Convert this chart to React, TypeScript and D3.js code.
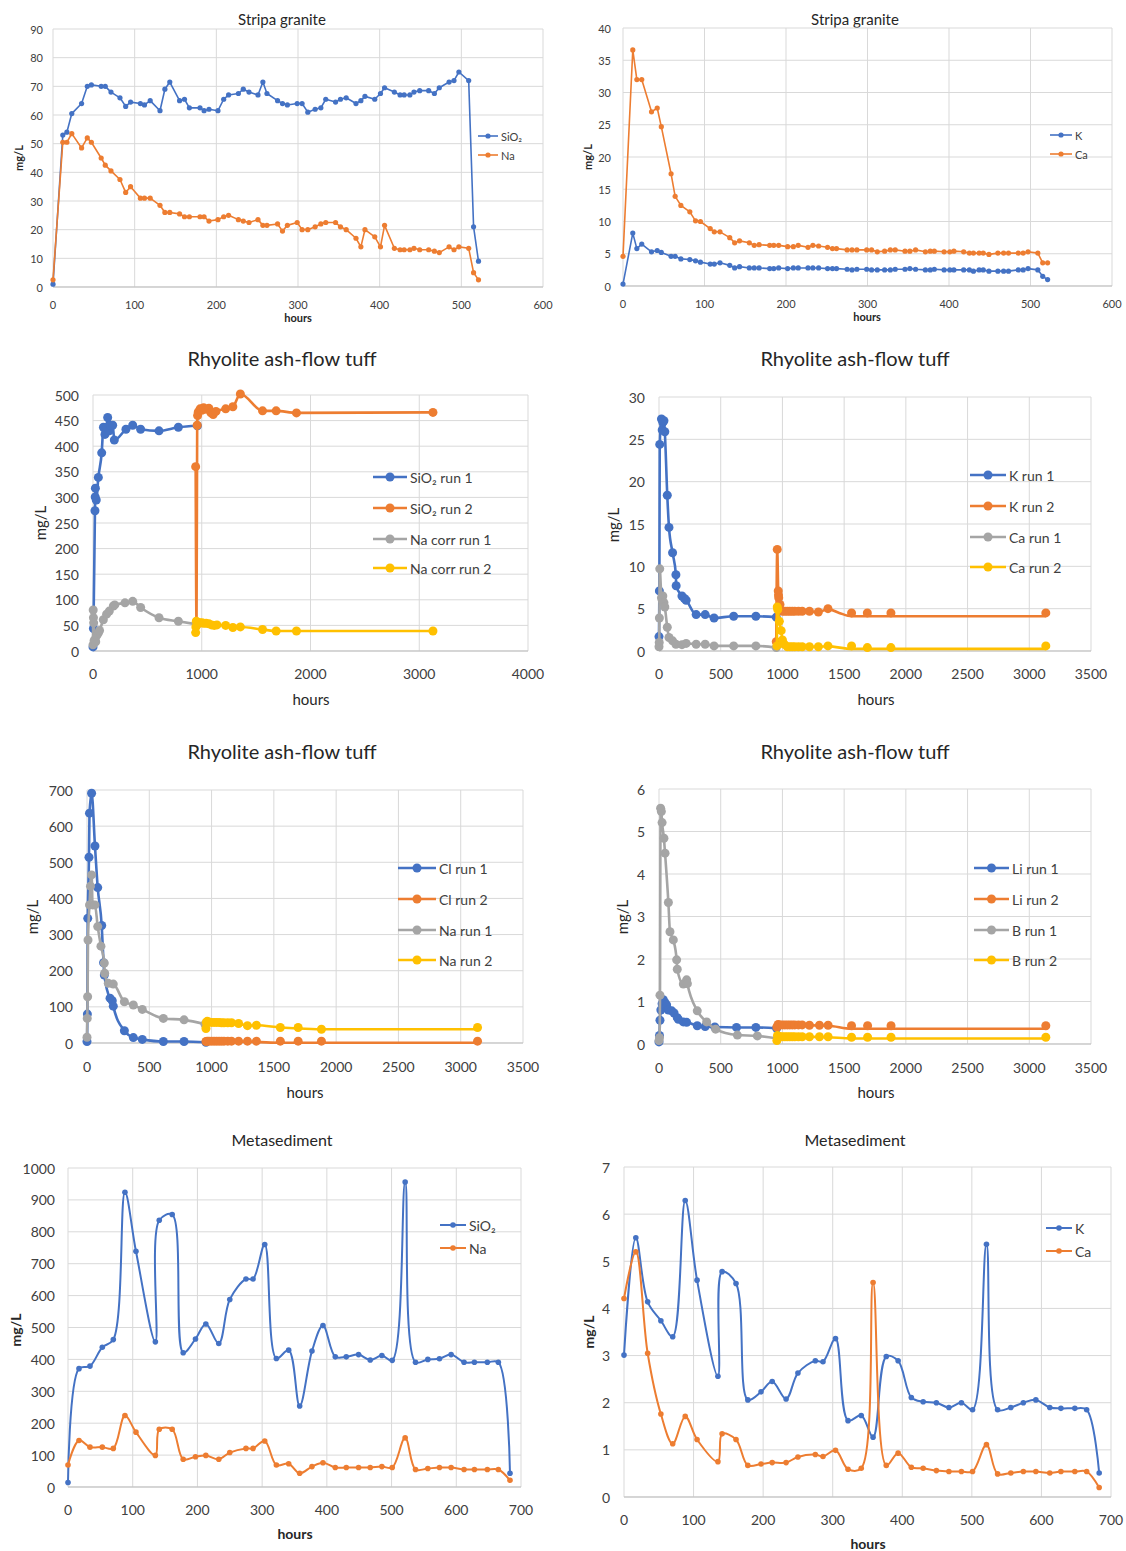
import React from "react";
import * as d3 from "d3";

const BLUE = "#4472C4";
const ORANGE = "#ED7D31";
const GREY = "#A5A5A5";
const YELLOW = "#FFC000";
const FONT = "Lato, 'Open Sans', sans-serif";

// ---- Stripa granite (same sampling times for all four series)
const stripaHours = [0, 12, 17, 23, 35, 42, 47, 59, 64, 71, 82, 89, 95, 107, 112, 119, 131, 137, 143, 155, 161, 167, 180, 185, 191, 202, 209, 215, 227, 233, 240, 251, 257, 262, 275, 281, 287, 299, 305, 312, 321, 328, 334, 346, 352, 359, 371, 377, 382, 394, 401, 406, 418, 425, 430, 437, 442, 449, 460, 467, 473, 485, 491, 497, 509, 515, 521];
const stripaSiO2 = [1, 53, 54, 60.5, 64, 70, 70.5, 70, 70, 68, 66, 63, 64.5, 64, 63.5, 65, 61.5, 69, 71.5, 65, 65.5, 62.5, 62.5, 61.5, 62, 61.5, 65.5, 67, 67.5, 69, 68, 67, 71.5, 67.5, 65, 64, 63.5, 64, 64, 61, 62, 62.5, 65.5, 64.5, 65.5, 66, 64, 65, 66.5, 65.5, 67.5, 69.5, 68, 67, 67, 67, 68, 68.5, 68.5, 67.5, 69.5, 71.5, 72, 75, 72, 21, 9];
const stripaNa = [2.5, 50.5, 50.5, 53.5, 48.5, 52, 50.5, 45, 42.5, 40.5, 37.5, 33, 35, 31, 31, 31, 28.5, 26, 26, 25.5, 24.5, 24.5, 24.5, 24.5, 23, 23.5, 24.5, 25, 23.5, 23, 22.5, 23.5, 21.5, 21.5, 22, 19.5, 21.5, 22.5, 20, 20, 21, 22, 22.5, 22.5, 21, 20, 17, 14, 20, 17.5, 14, 21.5, 13.5, 13, 13, 13, 13.5, 13, 13, 12.5, 12, 14, 13, 14, 13.5, 5, 2.5];
const stripaK = [0.3, 8.2, 5.8, 6.5, 5.3, 5.5, 5.2, 4.6, 4.6, 4.2, 4.1, 3.9, 3.7, 3.4, 3.4, 3.6, 3.2, 2.8, 3.0, 2.8, 2.8, 2.8, 2.7, 2.7, 2.8, 2.7, 2.8, 2.8, 2.8, 2.8, 2.8, 2.7, 2.7, 2.7, 2.6, 2.5, 2.6, 2.6, 2.5, 2.5, 2.5, 2.5, 2.6, 2.6, 2.7, 2.6, 2.5, 2.5, 2.6, 2.5, 2.5, 2.5, 2.5, 2.5, 2.3, 2.5, 2.5, 2.3, 2.3, 2.3, 2.3, 2.5, 2.5, 2.7, 2.5, 1.5, 1.0];
const stripaCa = [4.6, 36.6, 32, 32, 27, 27.6, 24.7, 17.4, 13.9, 12.5, 11.5, 10.1, 10, 8.9, 8.4, 8.4, 7.5, 6.7, 7, 6.7, 6.3, 6.4, 6.3, 6.3, 6.3, 6.1, 6.1, 6.3, 6, 6.3, 6.2, 6, 5.8, 5.8, 5.6, 5.6, 5.6, 5.6, 5.6, 5.3, 5.4, 5.6, 5.6, 5.4, 5.4, 5.6, 5.3, 5.4, 5.4, 5.3, 5.3, 5.4, 5.3, 5.1, 5.1, 5.1, 5.1, 4.9, 5.1, 5.1, 5.1, 5.1, 5.1, 5.3, 5.1, 3.6, 3.6];

// ---- Rhyolite ash-flow tuff, [hours, mg/L]
type P = [number, number];
const rhySiO2Run1: P[] = [[0, 8], [4, 44], [18, 274], [20, 301], [22, 318], [30, 295], [49, 339], [80, 387], [96, 437], [110, 423], [125, 437], [135, 456], [150, 430], [160, 441], [181, 441], [196, 412], [303, 433], [365, 441], [438, 433], [607, 430], [785, 437], [960, 440]];
const rhySiO2Run2: P[] = [[944, 360], [952, 50], [958, 441], [962, 460], [968, 467], [985, 473], [1000, 470], [1017, 475], [1040, 472], [1066, 474], [1085, 465], [1105, 462], [1131, 468], [1220, 473], [1286, 477], [1355, 502], [1559, 469], [1684, 469], [1871, 465], [3126, 466]];
const rhyNaCorrRun1: P[] = [[0, 12], [2, 80], [4, 65], [6, 55], [10, 20], [18, 22], [25, 18], [34, 30], [49, 35], [60, 40], [95, 61], [125, 72], [150, 78], [187, 88], [200, 90], [294, 94], [365, 97], [438, 85], [607, 65], [785, 58], [955, 52]];
const rhyNaCorrRun2: P[] = [[944, 36], [946, 47], [950, 58], [960, 56], [980, 55], [1000, 55], [1017, 54], [1040, 54], [1066, 53], [1090, 51], [1115, 50], [1140, 51], [1220, 50], [1286, 46], [1355, 47], [1559, 42], [1684, 39], [1871, 39], [3126, 39]];

const kRun1: P[] = [[0, 1.7], [3, 7.1], [6, 24.4], [20, 27.4], [26, 26.1], [31, 27.0], [40, 27.2], [47, 25.9], [67, 18.4], [81, 14.6], [110, 11.6], [137, 9.0], [139, 7.7], [186, 6.5], [206, 6.2], [220, 6.0], [301, 4.3], [374, 4.3], [446, 3.9], [605, 4.1], [785, 4.1], [950, 4.0]];
const kRun2: P[] = [[950, 1.1], [958, 12.0], [966, 7.1], [968, 6.6], [970, 6.3], [980, 5.5], [990, 4.8], [1000, 4.7], [1020, 4.7], [1040, 4.7], [1060, 4.7], [1080, 4.7], [1100, 4.7], [1130, 4.7], [1160, 4.7], [1219, 4.7], [1291, 4.6], [1369, 5.0], [1560, 4.5], [1688, 4.5], [1879, 4.5], [3134, 4.5]];
const kRun2Line: P[] = [[950, 1.1], [958, 12.0], [966, 7.1], [970, 6.3], [980, 5.5], [1000, 4.7], [1291, 4.6], [1369, 4.95], [1460, 4.5], [1560, 4.1], [3134, 4.1]];
const caRun1: P[] = [[0, 0.5], [2, 1.0], [3, 3.9], [6, 9.7], [20, 6.3], [26, 6.0], [31, 6.5], [40, 5.7], [47, 5.2], [67, 2.8], [81, 1.6], [110, 1.2], [137, 0.8], [186, 0.75], [220, 0.9], [301, 0.8], [374, 0.8], [446, 0.6], [605, 0.6], [785, 0.6], [950, 0.4]];
const caRun2: P[] = [[955, 0.6], [958, 5.2], [962, 4.9], [975, 3.5], [990, 2.4], [1000, 1.3], [1015, 0.8], [1040, 0.5], [1060, 0.5], [1080, 0.5], [1100, 0.5], [1130, 0.5], [1160, 0.5], [1219, 0.5], [1291, 0.5], [1369, 0.6], [1560, 0.6], [1688, 0.4], [1879, 0.4], [3134, 0.6]];
const caRun2Line: P[] = [[955, 0.6], [958, 5.2], [962, 4.9], [975, 3.5], [990, 2.4], [1000, 1.3], [1015, 0.8], [1040, 0.5], [1291, 0.5], [1369, 0.55], [1560, 0.25], [3134, 0.25]];

const clRun1: P[] = [[0, 4], [3, 80], [6, 345], [16, 514], [20, 636], [37, 691], [64, 545], [86, 430], [118, 325], [133, 222], [139, 188], [185, 124], [203, 117], [211, 102], [300, 34], [372, 15], [444, 10], [613, 4], [779, 4], [955, 2]];
const clRun2: P[] = [[955, 4], [965, 5], [980, 5], [1000, 5], [1020, 5], [1040, 5], [1060, 5], [1080, 5], [1100, 5], [1130, 5], [1160, 5], [1217, 5], [1288, 5], [1360, 5], [1552, 5], [1695, 5], [1882, 5], [3135, 5]];
const clRun2Line: P[] = [[955, 4], [1160, 4], [1360, 3], [1552, 0.5], [3135, 0.5]];
const naRun1: P[] = [[0, 16], [2, 68], [5, 128], [8, 285], [20, 382], [28, 434], [37, 465], [45, 382], [64, 382], [86, 322], [112, 268], [139, 221], [142, 193], [171, 165], [211, 163], [300, 114], [372, 105], [444, 93], [613, 68], [779, 64], [947, 52]];
const naRun2: P[] = [[955, 40], [958, 57], [965, 60], [980, 58], [1000, 57], [1020, 57], [1040, 57], [1060, 57], [1080, 56], [1100, 56], [1130, 56], [1160, 56], [1217, 54], [1288, 48], [1360, 49], [1552, 43], [1695, 43], [1882, 38], [3135, 43]];
const naRun2Line: P[] = [[955, 40], [958, 57], [1160, 56], [1217, 54], [1288, 48], [1360, 49], [1552, 43], [1695, 40], [1882, 38], [3135, 38]];

const liRun1: P[] = [[0, 0.05], [4, 0.2], [8, 0.56], [15, 0.8], [25, 0.95], [35, 1.04], [49, 0.97], [62, 0.92], [76, 0.8], [103, 0.78], [122, 0.73], [148, 0.62], [157, 0.58], [197, 0.52], [224, 0.51], [310, 0.43], [374, 0.41], [452, 0.4], [628, 0.39], [785, 0.39], [953, 0.37]];
const liRun2: P[] = [[955, 0.4], [965, 0.46], [980, 0.45], [1000, 0.45], [1020, 0.45], [1040, 0.45], [1060, 0.45], [1080, 0.45], [1100, 0.45], [1130, 0.45], [1160, 0.45], [1219, 0.44], [1300, 0.44], [1370, 0.44], [1560, 0.43], [1690, 0.43], [1880, 0.43], [3134, 0.43]];
const liRun2Line: P[] = [[955, 0.4], [965, 0.45], [1370, 0.43], [1560, 0.36], [3134, 0.36]];
const bRun1: P[] = [[0, 0.08], [4, 0.15], [8, 1.15], [13, 5.55], [19, 5.47], [25, 5.21], [40, 4.84], [49, 4.49], [76, 3.33], [89, 2.64], [116, 2.45], [143, 1.98], [148, 1.76], [197, 1.41], [224, 1.51], [230, 1.42], [310, 0.78], [386, 0.52], [459, 0.35], [635, 0.21], [797, 0.19], [960, 0.13]];
const bRun2: P[] = [[955, 0.08], [960, 0.2], [980, 0.17], [1000, 0.17], [1020, 0.17], [1040, 0.17], [1060, 0.17], [1080, 0.17], [1100, 0.17], [1130, 0.17], [1160, 0.17], [1219, 0.17], [1300, 0.17], [1370, 0.17], [1560, 0.16], [1690, 0.16], [1880, 0.16], [3134, 0.16]];
const bRun2Line: P[] = [[955, 0.08], [960, 0.18], [1370, 0.16], [1560, 0.13], [3134, 0.13]];

// ---- Metasediment
const metaHours = [0, 17, 34, 53, 70, 88, 105, 135, 141, 161, 178, 197, 213, 233, 250, 275, 286, 304, 322, 341, 358, 377, 394, 413, 430, 449, 467, 485, 501, 521, 537, 556, 574, 592, 612, 628, 648, 665, 683];
const metaSiO2 = [14, 371, 379, 438, 462, 924, 739, 455, 836, 854, 421, 464, 511, 450, 588, 652, 652, 760, 403, 429, 254, 426, 506, 408, 408, 415, 398, 412, 397, 956, 391, 400, 402, 415, 391, 391, 391, 391, 43];
const metaNa = [69, 146, 125, 125, 121, 224, 172, 99, 181, 181, 87, 95, 99, 87, 108, 121, 121, 144, 69, 73, 43, 64, 76, 61, 61, 61, 61, 64, 61, 154, 55, 58, 61, 61, 55, 55, 55, 55, 21];
const metaK = [3.01, 5.5, 4.14, 3.74, 3.4, 6.29, 4.6, 2.56, 4.78, 4.53, 2.06, 2.23, 2.45, 2.08, 2.63, 2.89, 2.87, 3.36, 1.62, 1.73, 1.27, 2.98, 2.89, 2.11, 2.02, 2.0, 1.9, 2.0, 1.85, 5.36, 1.85, 1.9, 2.0, 2.06, 1.9, 1.88, 1.88, 1.85, 0.51];
const metaCa = [4.21, 5.2, 3.05, 1.76, 1.13, 1.71, 1.22, 0.75, 1.34, 1.22, 0.67, 0.7, 0.73, 0.73, 0.85, 0.9, 0.86, 0.99, 0.59, 0.61, 4.55, 0.67, 0.93, 0.63, 0.61, 0.56, 0.54, 0.54, 0.54, 1.11, 0.49, 0.51, 0.54, 0.54, 0.51, 0.54, 0.54, 0.54, 0.2];

const pairs = (hs: number[], vs: number[]): P[] => hs.map((h, i) => [h, vs[i]]);

type Series = { name: string; color: string; pts: P[]; line?: P[] };
type Cfg = {
  title: string; titleX: number; titleY: number; titleSize: number;
  left: number; right: number; top: number; bottom: number;
  xMax: number; xStep: number; yMax: number; yStep: number;
  tickSize: number; yGap: number; xGap: number;
  xTitle: P; yTitle: P; axisSize: number; bold: boolean;
  legend: { x0: number; x1: number; ys: number[]; size: number };
  r: number; lw: number; curve: d3.CurveFactory; series: Series[];
};

const smooth = d3.curveCatmullRom.alpha(0.5);

const panels: Cfg[] = [
  {
    title: "Stripa granite", titleX: 282, titleY: 19, titleSize: 15,
    left: 53, right: 543, top: 29, bottom: 287, xMax: 600, xStep: 100, yMax: 90, yStep: 10,
    tickSize: 11, yGap: 10, xGap: 17, xTitle: [298, 317], yTitle: [18, 158], axisSize: 11, bold: true,
    legend: { x0: 478, x1: 498, ys: [136, 155], size: 11 }, r: 2.6, lw: 1.6, curve: d3.curveLinear,
    series: [
      { name: "SiO₂", color: BLUE, pts: pairs(stripaHours, stripaSiO2) },
      { name: "Na", color: ORANGE, pts: pairs(stripaHours, stripaNa) },
    ],
  },
  {
    title: "Stripa granite", titleX: 855, titleY: 19, titleSize: 15,
    left: 623, right: 1112, top: 28, bottom: 286, xMax: 600, xStep: 100, yMax: 40, yStep: 5,
    tickSize: 11, yGap: 12, xGap: 17, xTitle: [867, 316], yTitle: [587, 157], axisSize: 11, bold: true,
    legend: { x0: 1050, x1: 1072, ys: [135, 154], size: 11 }, r: 2.6, lw: 1.6, curve: d3.curveLinear,
    series: [
      { name: "K", color: BLUE, pts: pairs(stripaHours, stripaK) },
      { name: "Ca", color: ORANGE, pts: pairs(stripaHours, stripaCa) },
    ],
  },
  {
    title: "Rhyolite ash-flow tuff", titleX: 282, titleY: 358, titleSize: 20,
    left: 93, right: 528, top: 395, bottom: 651, xMax: 4000, xStep: 1000, yMax: 500, yStep: 50,
    tickSize: 14, yGap: 14, xGap: 22, xTitle: [311, 699], yTitle: [40, 523], axisSize: 15, bold: false,
    legend: { x0: 373, x1: 407, ys: [477, 508, 539, 568], size: 14 }, r: 4.5, lw: 2.6, curve: d3.curveMonotoneX,
    series: [
      { name: "SiO₂ run 1", color: BLUE, pts: rhySiO2Run1 },
      { name: "SiO₂ run 2", color: ORANGE, pts: rhySiO2Run2 },
      { name: "Na corr run 1", color: GREY, pts: rhyNaCorrRun1 },
      { name: "Na corr run 2", color: YELLOW, pts: rhyNaCorrRun2 },
    ],
  },
  {
    title: "Rhyolite ash-flow tuff", titleX: 855, titleY: 358, titleSize: 20,
    left: 659, right: 1091, top: 397, bottom: 651, xMax: 3500, xStep: 500, yMax: 30, yStep: 5,
    tickSize: 14, yGap: 14, xGap: 22, xTitle: [876, 699], yTitle: [613, 525], axisSize: 15, bold: false,
    legend: { x0: 970, x1: 1006, ys: [475, 506, 537, 567], size: 14 }, r: 4.5, lw: 2.6, curve: d3.curveMonotoneX,
    series: [
      { name: "K run 1", color: BLUE, pts: kRun1 },
      { name: "K run 2", color: ORANGE, pts: kRun2, line: kRun2Line },
      { name: "Ca run 1", color: GREY, pts: caRun1 },
      { name: "Ca run 2", color: YELLOW, pts: caRun2, line: caRun2Line },
    ],
  },
  {
    title: "Rhyolite ash-flow tuff", titleX: 282, titleY: 751, titleSize: 20,
    left: 87, right: 523, top: 790, bottom: 1043, xMax: 3500, xStep: 500, yMax: 700, yStep: 100,
    tickSize: 14, yGap: 14, xGap: 23, xTitle: [305, 1092], yTitle: [32, 917], axisSize: 15, bold: false,
    legend: { x0: 398, x1: 436, ys: [868, 899, 930, 960], size: 14 }, r: 4.5, lw: 2.6, curve: d3.curveMonotoneX,
    series: [
      { name: "Cl run 1", color: BLUE, pts: clRun1 },
      { name: "Cl run 2", color: ORANGE, pts: clRun2, line: clRun2Line },
      { name: "Na run 1", color: GREY, pts: naRun1 },
      { name: "Na run 2", color: YELLOW, pts: naRun2, line: naRun2Line },
    ],
  },
  {
    title: "Rhyolite ash-flow tuff", titleX: 855, titleY: 751, titleSize: 20,
    left: 659, right: 1091, top: 789, bottom: 1044, xMax: 3500, xStep: 500, yMax: 6, yStep: 1,
    tickSize: 14, yGap: 14, xGap: 23, xTitle: [876, 1092], yTitle: [622, 917], axisSize: 15, bold: false,
    legend: { x0: 974, x1: 1009, ys: [868, 899, 930, 960], size: 14 }, r: 4.5, lw: 2.6, curve: d3.curveMonotoneX,
    series: [
      { name: "Li run 1", color: BLUE, pts: liRun1 },
      { name: "Li run 2", color: ORANGE, pts: liRun2, line: liRun2Line },
      { name: "B run 1", color: GREY, pts: bRun1 },
      { name: "B run 2", color: YELLOW, pts: bRun2, line: bRun2Line },
    ],
  },
  {
    title: "Metasediment", titleX: 282, titleY: 1139, titleSize: 16,
    left: 68, right: 521, top: 1168, bottom: 1487, xMax: 700, xStep: 100, yMax: 1000, yStep: 100,
    tickSize: 14, yGap: 13, xGap: 22, xTitle: [295, 1533], yTitle: [15, 1330], axisSize: 14, bold: true,
    legend: { x0: 440, x1: 466, ys: [1225, 1248], size: 14 }, r: 2.8, lw: 2, curve: smooth,
    series: [
      { name: "SiO₂", color: BLUE, pts: pairs(metaHours, metaSiO2) },
      { name: "Na", color: ORANGE, pts: pairs(metaHours, metaNa) },
    ],
  },
  {
    title: "Metasediment", titleX: 855, titleY: 1139, titleSize: 16,
    left: 624, right: 1111, top: 1167, bottom: 1497, xMax: 700, xStep: 100, yMax: 7, yStep: 1,
    tickSize: 14, yGap: 14, xGap: 22, xTitle: [868, 1543], yTitle: [588, 1332], axisSize: 14, bold: true,
    legend: { x0: 1046, x1: 1072, ys: [1228, 1251], size: 14 }, r: 2.8, lw: 2, curve: smooth,
    series: [
      { name: "K", color: BLUE, pts: pairs(metaHours, metaK) },
      { name: "Ca", color: ORANGE, pts: pairs(metaHours, metaCa) },
    ],
  },
];

function Panel({ c }: { c: Cfg }) {
  const x = d3.scaleLinear().domain([0, c.xMax]).range([c.left, c.right]);
  const y = d3.scaleLinear().domain([0, c.yMax]).range([c.bottom, c.top]);
  const xTicks = d3.range(0, c.xMax + 1e-9, c.xStep);
  const yTicks = d3.range(0, c.yMax + 1e-9, c.yStep);
  const line = d3.line<P>().x((d) => x(d[0])).y((d) => y(d[1])).curve(c.curve);
  const weight = c.bold ? 700 : 400;
  return (
    <g fontFamily={FONT}>
      <text x={c.titleX} y={c.titleY} fontSize={c.titleSize} textAnchor="middle" dominantBaseline="central" fill="#262626">
        {c.title}
      </text>
      {yTicks.map((t) => (
        <g key={"y" + t}>
          <line x1={c.left} x2={c.right} y1={y(t)} y2={y(t)} stroke="#D9D9D9" strokeWidth={1} />
          <text x={c.left - c.yGap} y={y(t)} fontSize={c.tickSize} textAnchor="end" dominantBaseline="central" fill="#404040">
            {t}
          </text>
        </g>
      ))}
      {xTicks.map((t) => (
        <g key={"x" + t}>
          <line x1={x(t)} x2={x(t)} y1={c.top} y2={c.bottom} stroke="#D9D9D9" strokeWidth={1} />
          <text x={x(t)} y={c.bottom + c.xGap} fontSize={c.tickSize} textAnchor="middle" dominantBaseline="central" fill="#404040">
            {t}
          </text>
        </g>
      ))}
      <line x1={c.left} x2={c.right} y1={c.bottom} y2={c.bottom} stroke="#BFBFBF" strokeWidth={1} />
      <text x={c.xTitle[0]} y={c.xTitle[1]} fontSize={c.axisSize} fontWeight={weight} textAnchor="middle" dominantBaseline="central" fill="#262626">
        hours
      </text>
      <text
        transform={`translate(${c.yTitle[0]},${c.yTitle[1]}) rotate(-90)`}
        fontSize={c.axisSize} fontWeight={weight} textAnchor="middle" dominantBaseline="central" fill="#262626"
      >
        mg/L
      </text>
      {c.series.map((s) => (
        <g key={s.name}>
          <path d={line(s.line ?? s.pts) ?? ""} fill="none" stroke={s.color} strokeWidth={c.lw} strokeLinejoin="round" />
          {s.pts.map((p, i) => (
            <circle key={i} cx={x(p[0])} cy={y(p[1])} r={c.r} fill={s.color} />
          ))}
        </g>
      ))}
      {c.series.map((s, i) => {
        const ly = c.legend.ys[i];
        return (
          <g key={"lg" + s.name}>
            <line x1={c.legend.x0} x2={c.legend.x1} y1={ly} y2={ly} stroke={s.color} strokeWidth={c.lw} />
            <circle cx={(c.legend.x0 + c.legend.x1) / 2} cy={ly} r={c.r} fill={s.color} />
            <text x={c.legend.x1 + 3} y={ly} fontSize={c.legend.size} dominantBaseline="central" fill="#404040">
              {s.name}
            </text>
          </g>
        );
      })}
    </g>
  );
}

export default function App() {
  return (
    <svg width={1126} height={1551} style={{ position: "absolute", left: 0, top: 0, background: "#fff" }}>
      <rect width={1126} height={1551} fill="#fff" />
      {panels.map((c, i) => (
        <Panel key={i} c={c} />
      ))}
    </svg>
  );
}
